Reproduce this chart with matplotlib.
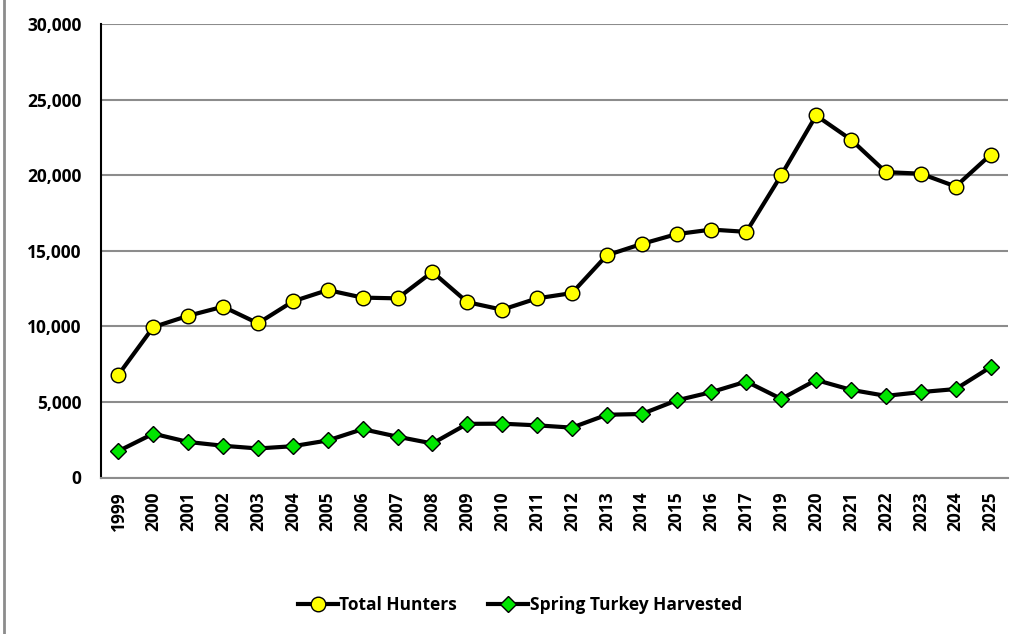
import matplotlib
matplotlib.use("Agg")
import matplotlib.pyplot as plt
from matplotlib.lines import Line2D
from matplotlib.ticker import FuncFormatter, MultipleLocator

years = ["1999", "2000", "2001", "2002", "2003", "2004", "2005", "2006", "2007",
         "2008", "2009", "2010", "2011", "2012", "2013", "2014", "2015", "2016",
         "2017", "2019", "2020", "2021", "2022", "2023", "2024", "2025"]
total_hunters = [6800, 9950, 10700, 11300, 10200, 11650, 12400, 11900, 11850,
                 13600, 11600, 11100, 11850, 12200, 14700, 15450, 16100, 16400,
                 16250, 20000, 23950, 22350, 20200, 20100, 19250, 21350]
turkey_harvested = [1750, 2900, 2350, 2100, 1920, 2070, 2450, 3200, 2700,
                    2250, 3550, 3560, 3450, 3300, 4150, 4200, 5100, 5650,
                    6350, 5200, 6450, 5800, 5400, 5650, 5850, 7300]

plt.rcParams['font.family'] = ['Open Sans', 'DejaVu Sans']
plt.rcParams['font.weight'] = 'bold'

fig = plt.figure(figsize=(10.29, 6.34), dpi=100)
ax = fig.add_axes([101/1029, 1-477.5/634, (1008-101)/1029, (477.5-24)/634])

x = list(range(len(years)))
ax.plot(x, total_hunters, color='black', lw=3, marker='o', ms=10.5,
        mfc='#FFFF00', mec='black', mew=1, label='Total Hunters', zorder=3)
ax.plot(x, turkey_harvested, color='black', lw=3, marker='D', ms=8.5,
        mfc='#00E600', mec='black', mew=1, label='Spring Turkey Harvested', zorder=3)

ax.set_xlim(-0.5, len(years)-0.5)
ax.set_ylim(0, 30000)
ax.yaxis.set_major_locator(MultipleLocator(5000))
ax.yaxis.set_major_formatter(FuncFormatter(lambda v, p: f"{int(v):,}"))
ax.set_xticks(x)
ax.set_xticklabels(years, rotation=90)
ax.tick_params(axis='both', length=0, labelsize=12.5)
ax.tick_params(axis='y', pad=14)
ax.tick_params(axis='x', pad=10)
for lbl in ax.get_xticklabels() + ax.get_yticklabels():
    lbl.set_fontweight('bold')

ax.grid(axis='y', color='#8c8c8c', lw=1.5)
ax.set_axisbelow(True)
for s in ['top', 'right']:
    ax.spines[s].set_visible(False)
ax.spines['left'].set_color('black')
ax.spines['left'].set_linewidth(1.5)
ax.spines['bottom'].set_color('#8c8c8c')
ax.spines['bottom'].set_linewidth(1.5)

leg = fig.legend(loc='center', bbox_to_anchor=(520/1029, 1-605/634), ncol=2,
                 frameon=False, fontsize=12.5, handlelength=2.3,
                 columnspacing=1.8, handletextpad=0.1)
for t in leg.get_texts():
    t.set_fontweight('bold')

fig.add_artist(Line2D([3.5/1029, 3.5/1029], [0, 1], color='#8c8c8c', lw=2,
                      transform=fig.transFigure))

fig.savefig('out.png', dpi=100)
